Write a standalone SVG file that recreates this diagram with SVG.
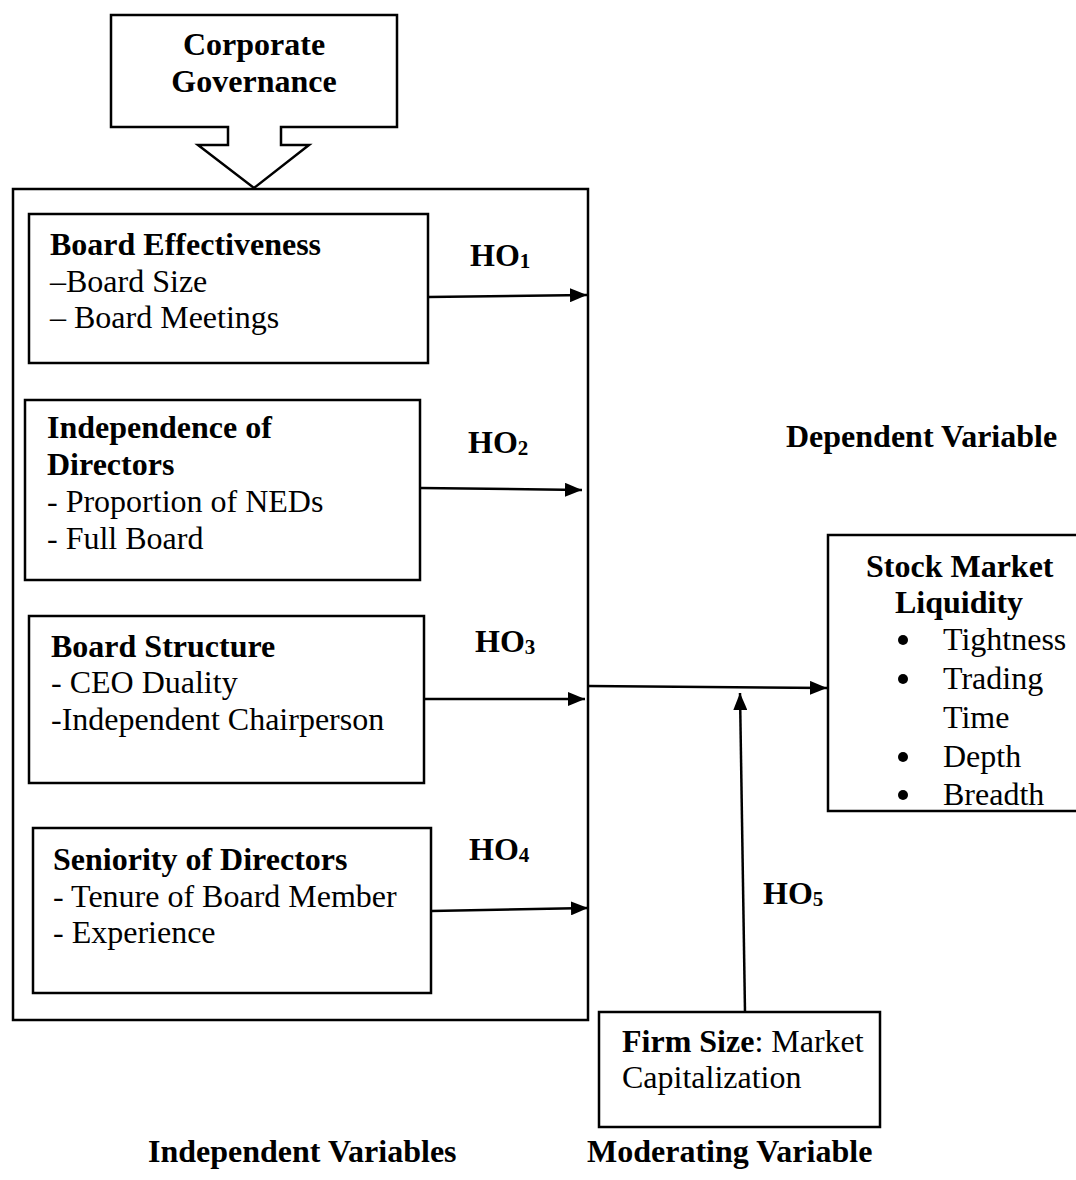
<svg xmlns="http://www.w3.org/2000/svg" width="1076" height="1180" viewBox="0 0 1076 1180">
<style>
text{font-family:"Liberation Serif","Times New Roman",serif;font-size:32px;fill:#000}
.b{font-weight:bold}
.sub{font-size:21px}
.box{fill:#fff;stroke:#000;stroke-width:2.5}
.conn{stroke:#000;stroke-width:2.5;fill:none}
.dot{fill:#000}
</style>
<defs>
<marker id="ah" markerUnits="userSpaceOnUse" markerWidth="18" markerHeight="14" refX="17" refY="7" orient="auto">
<path d="M0,0 L17,7 L0,14 Z" fill="#000"/>
</marker>
</defs>
<rect width="1076" height="1180" fill="#fff"/>

<g id="corporate-governance">
<path class="box" d="M111,15 H397 V127 H281 V145 H309 L254,188 L198,145 H228 V127 H111 Z"/>
<text class="b" x="254" y="55" text-anchor="middle">Corporate</text>
<text class="b" x="254" y="92" text-anchor="middle">Governance</text>
</g>

<g id="independent-container">
<rect class="box" x="13" y="189" width="575" height="831"/>
</g>

<g id="board-effectiveness">
<rect class="box" x="29" y="214" width="399" height="149"/>
<text class="b" x="50" y="255">Board Effectiveness</text>
<text x="50" y="292">–Board Size</text>
<text x="50" y="328">– Board Meetings</text>
</g>

<g id="independence-of-directors">
<rect class="box" x="25" y="400" width="395" height="180"/>
<text class="b" x="47" y="438">Independence of</text>
<text class="b" x="47" y="475">Directors</text>
<text x="47" y="512">- Proportion of NEDs</text>
<text x="47" y="549">- Full Board</text>
</g>

<g id="board-structure">
<rect class="box" x="29" y="616" width="395" height="167"/>
<text class="b" x="51" y="657">Board Structure</text>
<text x="51" y="693">- CEO Duality</text>
<text x="51" y="730">-Independent Chairperson</text>
</g>

<g id="seniority-of-directors">
<rect class="box" x="33" y="828" width="398" height="165"/>
<text class="b" x="53" y="870">Seniority of Directors</text>
<text x="53" y="907">- Tenure of Board Member</text>
<text x="53" y="943">- Experience</text>
</g>

<g id="stock-market-liquidity">
<rect class="box" x="828" y="535" width="260" height="276"/>
<text class="b" x="866" y="577">Stock Market</text>
<text class="b" x="895" y="613">Liquidity</text>
<circle class="dot" cx="903" cy="640" r="5"/><text x="943" y="650">Tightness</text>
<circle class="dot" cx="903" cy="679" r="5"/><text x="943" y="689">Trading</text>
<text x="943" y="728">Time</text>
<circle class="dot" cx="903" cy="757" r="5"/><text x="943" y="767">Depth</text>
<circle class="dot" cx="903" cy="795" r="5"/><text x="943" y="805">Breadth</text>
</g>

<g id="firm-size">
<rect class="box" x="599" y="1012" width="281" height="115"/>
<text x="622" y="1052"><tspan class="b">Firm Size</tspan>: Market</text>
<text x="622" y="1088">Capitalization</text>
</g>

<g id="connectors">
<line class="conn" x1="428" y1="297" x2="587" y2="295" marker-end="url(#ah)"/>
<line class="conn" x1="420" y1="488" x2="582" y2="490" marker-end="url(#ah)"/>
<line class="conn" x1="425" y1="699" x2="585" y2="699" marker-end="url(#ah)"/>
<line class="conn" x1="588" y1="686" x2="827" y2="688" marker-end="url(#ah)"/>
<line class="conn" x1="431" y1="911" x2="588" y2="908" marker-end="url(#ah)"/>
<line class="conn" x1="745" y1="1012" x2="740" y2="693" marker-end="url(#ah)"/>
</g>

<g id="labels">
<text class="b" x="470" y="266">HO<tspan class="sub" dy="2">1</tspan></text>
<text class="b" x="468" y="453">HO<tspan class="sub" dy="2">2</tspan></text>
<text class="b" x="475" y="652">HO<tspan class="sub" dy="2">3</tspan></text>
<text class="b" x="469" y="860">HO<tspan class="sub" dy="2">4</tspan></text>
<text class="b" x="763" y="904">HO<tspan class="sub" dy="2">5</tspan></text>
<text class="b" x="786" y="447">Dependent Variable</text>
<text class="b" x="148" y="1162">Independent Variables</text>
<text class="b" x="587" y="1162">Moderating Variable</text>
</g>
</svg>
